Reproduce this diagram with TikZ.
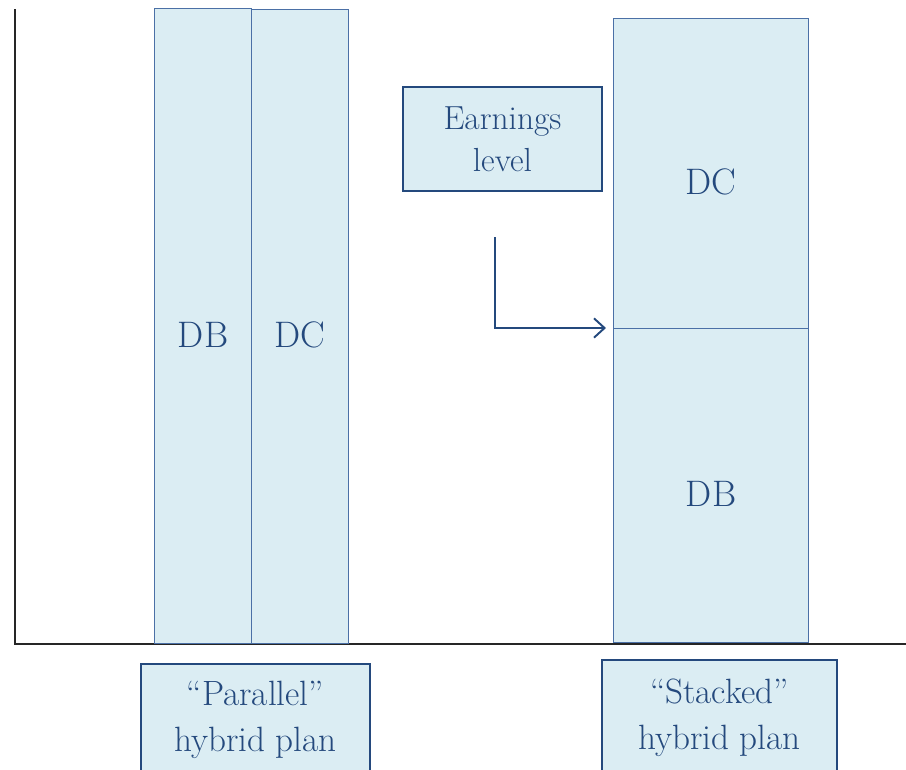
\documentclass[tikz,border=0pt]{standalone}
\usetikzlibrary{arrows.meta}
\definecolor{barfill}{HTML}{DBEDF3}
\definecolor{barline}{HTML}{4B70A6}
\definecolor{navy}{HTML}{24497D}

\tikzset{
  box/.style={fill=barfill, text=navy, inner sep=0pt, anchor=north west},
  bar/.style={box, draw=barline, line width=0.7pt,
    font=\fontsize{21}{26}\selectfont, text height=24pt, text depth=0pt},
  tag/.style={box, draw=navy, line width=1.1pt, align=center,
    font=\fontsize{20}{26}\selectfont},
}

\begin{document}
\begin{tikzpicture}[x=0.02cm, y=-0.02cm]
	%%%%% START %%%%%
	
	\useasboundingbox (0, 0) rectangle (906, 769);
	
	% axes
	\draw[line width=1pt, color=black!85] (15, 9) -- (15, 644) -- (906, 644);
	
	% parallel plan
	\node[bar, minimum width=1.94cm, minimum height=12.7cm] (parDB) at (154, 8) {DB};
	\node[bar, minimum width=1.94cm, minimum height=12.68cm] (parDC) at (251, 9) {DC};
	
	% stacked plan
	\node[bar, minimum width=3.9cm, minimum height=6.2cm] (stackDC) at (613, 18) {DC};
	\node[bar, minimum width=3.9cm, minimum height=6.28cm] (stackDB) at (613, 328) {DB};
	
	\node[tag, font=\fontsize{19}{23}\selectfont, minimum width=3.98cm, minimum height=2.08cm] (earn) at (402, 86) {Earnings\\[1pt]level};
	\coordinate (arrowfrom) at (495, 237);
	\draw[line width=1.1pt, color=navy, -{Straight Barb[length=6pt, width=11pt]}, shorten >=4pt]
		(arrowfrom) |- (stackDB.north west);
	
	% labels
	\node[tag, minimum width=4.58cm, minimum height=2.24cm] (parlabel) at (140, 663) {``Parallel''\\hybrid plan};
	\node[tag, minimum width=4.7cm, minimum height=2.32cm] (stacklabel) at (601, 659) {``Stacked''\\hybrid plan};
	
	%%%%% END %%%%%
\end{tikzpicture}
\end{document}
